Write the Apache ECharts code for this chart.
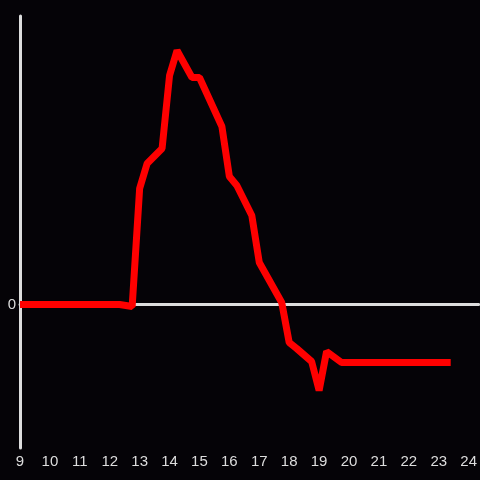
<!DOCTYPE html>
<html>
<head>
<meta charset="utf-8">
<script src="https://cdn.jsdelivr.net/npm/echarts@6/dist/echarts.min.js"></script>
<style>
    html, body { margin: 0; padding: 0; background: #050307; }
    #chart { width: 480px; height: 480px; }
</style>
</head>
<body>
<div id="chart"></div>
<script>
    // hours of the day (x) and values (y)
    var hours = [9, 12.33, 12.75, 13, 13.25, 13.75, 14, 14.25, 14.75, 15, 15.75, 16, 16.25, 16.75, 17, 17.75, 18, 18.25, 18.75, 19, 19.25, 19.75, 23.4];
    var values = [0, 0, -2, 116, 141, 156, 229, 254, 227, 227, 178, 128, 119, 89, 42, 2, -38, -44, -57, -86, -47, -58, -58];
    var xTicks = [9, 10, 11, 12, 13, 14, 15, 16, 17, 18, 19, 20, 21, 22, 23, 24];

    var points = hours.map(function (h, i) { return [h, values[i]]; });

    var chart = echarts.init(document.getElementById("chart"));
    var option = {
        backgroundColor: "#050307",
        animation: false,
        grid: { left: 20, right: 0, top: 16, bottom: 32 },
        xAxis: [
            {
                type: "value",
                min: xTicks[0],
                max: 24.333,
                interval: 1,
                axisLine: { show: false, onZero: false },
                axisTick: { show: false },
                splitLine: { show: false },
                axisLabel: {
                    color: "#dddddd",
                    fontSize: 15,
                    margin: 6,
                    showMaxLabel: false,
                    formatter: function (v) {
                        return xTicks.indexOf(v) >= 0 ? String(v) : "";
                    }
                }
            },
            {
                // the zero line
                type: "value",
                min: xTicks[0],
                max: 24.333,
                axisLine: { show: true, onZero: true, lineStyle: { color: "#dddddd", width: 3 } },
                axisTick: { show: false },
                axisLabel: { show: false },
                splitLine: { show: false }
            }
        ],
        yAxis: {
            type: "value",
            min: -143.5,
            max: 288.5,
            interval: 143.5,
            axisLine: { show: true, lineStyle: { color: "#dddddd", width: 3 } },
            axisTick: { show: false },
            splitLine: { show: false },
            axisLabel: {
                color: "#dddddd",
                fontSize: 15,
                margin: 4,
                formatter: function (v) { return v === 0 ? "0" : ""; }
            }
        },
        series: [
            {
                type: "line",
                data: points,
                symbol: "none",
                lineStyle: { color: "#ff0000", width: 7 }
            }
        ]
    };
    chart.setOption(option);
</script>
</body>
</html>
